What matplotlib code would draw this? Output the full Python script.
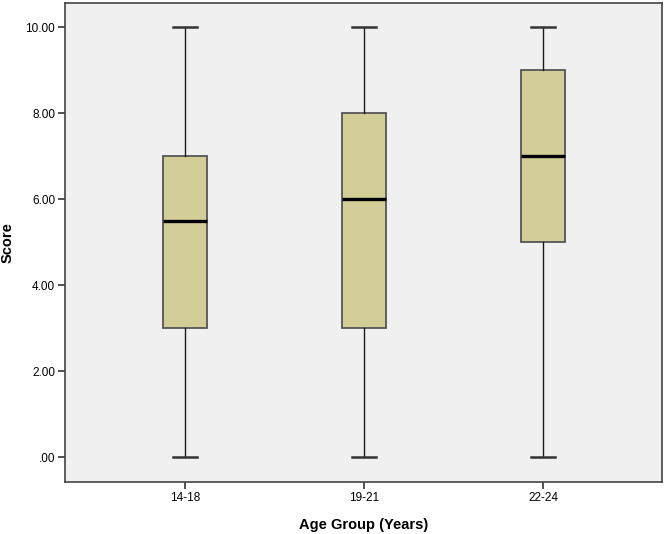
"""Recreate an SPSS-style boxplot of scores by age group."""

import matplotlib

matplotlib.use("Agg")
import matplotlib.pyplot as plt

AGE_GROUPS = ["14-18", "19-21", "22-24"]
WHISKER_LOW = [0.0, 0.0, 0.0]
Q1 = [3.0, 3.0, 5.0]
MEDIAN = [5.5, 6.0, 7.0]
Q3 = [7.0, 8.0, 9.0]
WHISKER_HIGH = [10.0, 10.0, 10.0]
Y_TICKS = [0, 2, 4, 6, 8, 10]
Y_TICK_LABELS = [".00", "2.00", "4.00", "6.00", "8.00", "10.00"]

plt.rcParams["font.family"] = ["Liberation Sans", "DejaVu Sans"]


def main() -> None:
    """Draw the chart and save it as out.png."""
    stats = []
    for i, label in enumerate(AGE_GROUPS):
        stats.append({
            "label": label,
            "whislo": WHISKER_LOW[i],
            "q1": Q1[i],
            "med": MEDIAN[i],
            "q3": Q3[i],
            "whishi": WHISKER_HIGH[i],
            "fliers": [],
        })

    fig = plt.figure(figsize=(6.66, 5.34), dpi=100)
    ax = fig.add_axes([0.0976, 0.0974, 0.8964, 0.897])
    ax.set_facecolor("#f0f0f0")

    positions = range(1, len(AGE_GROUPS) + 1)
    ax.bxp(
        stats,
        positions=positions,
        widths=0.25,
        capwidths=0.135,
        patch_artist=True,
        showfliers=False,
        boxprops={"facecolor": "#d3ce97", "edgecolor": "#555555", "linewidth": 1.3},
        whiskerprops={"color": "#1a1a1a", "linewidth": 1.0},
        capprops={"color": "#333333", "linewidth": 1.8},
        medianprops={"color": "black", "linewidth": 2.4},
    )

    ax.set_xlim(0.33, 3.665)
    ax.set_ylim(-0.58, 10.56)
    ax.set_yticks(Y_TICKS)
    ax.set_yticklabels(Y_TICK_LABELS)
    ax.set_xticks(list(positions))
    ax.set_xticklabels(AGE_GROUPS)
    ax.tick_params(axis="both", direction="out", length=5, width=1.2,
                   color="#333333", labelsize=8.5, pad=2)

    for spine in ax.spines.values():
        spine.set_color("#444444")
        spine.set_linewidth(1.2)

    ax.set_xlabel("Age Group (Years)", fontsize=10.5, fontweight="bold", labelpad=10)
    ax.set_ylabel("Score", fontsize=10.5, fontweight="bold", labelpad=8)

    fig.savefig("out.png", dpi=100)


if __name__ == "__main__":
    main()
